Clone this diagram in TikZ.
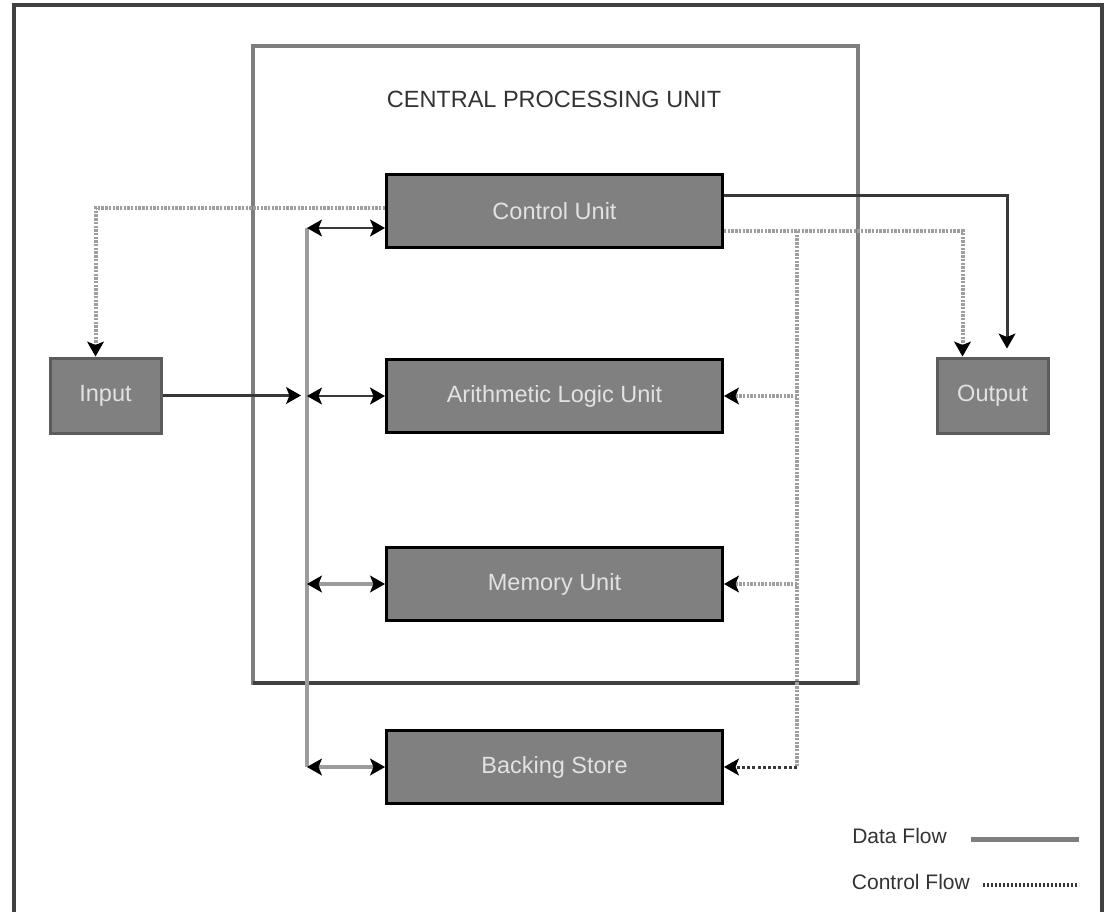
\documentclass[tikz,border=0pt]{standalone}
\usepackage{fontspec}
\setmainfont{Liberation Sans}
\usetikzlibrary{arrows.meta}
\definecolor{boxfill}{HTML}{808080}
\definecolor{boxtext}{HTML}{E2E2E2}
\definecolor{ioborder}{HTML}{5C5C5C}
\definecolor{framegray}{HTML}{7E7E7E}
\definecolor{framedark}{HTML}{404040}
\definecolor{darkline}{HTML}{383838}
\definecolor{busgray}{HTML}{9C9C9C}
\definecolor{ctrlgray}{HTML}{9E9E9E}
\definecolor{legendtext}{HTML}{333333}
\begin{document}
\begin{tikzpicture}[x=1pt,y=-1pt,
  hd/.tip={Stealth[length=15pt,width=17pt,inset=3.5pt,color=black,line width=1pt]},
  unitbox/.style={draw=black,line width=3pt,fill=boxfill,minimum width=336pt,
    minimum height=73pt,inner sep=0pt,text=boxtext,font=\fontsize{23.5}{27}\selectfont},
  iobox/.style={unitbox,draw=ioborder,minimum width=111pt,minimum height=75pt},
  title/.style={text=legendtext,font=\fontsize{23.5}{27}\selectfont,inner sep=0pt},
  legend/.style={text=legendtext,font=\fontsize{21}{25}\selectfont,inner sep=0pt},
  darkflow/.style={draw=darkline,line width=2.6pt},
  busflow/.style={draw=busgray,line width=4.5pt},
  ctrlflow/.style={draw=ctrlgray,line width=4pt,dash pattern=on 2.4pt off 1.3pt},
  ctrldark/.style={draw=darkline,line width=3pt,dash pattern=on 3pt off 2.2pt},
]
\useasboundingbox (0,0) rectangle (1105,912);

% outer frame (open at the bottom of the page)
\draw[framedark,line width=3.5pt] (14,5) rectangle (1102,960);

% CPU enclosure
\draw[framegray,line width=3.2pt] (253,46) rectangle (858,683);
\draw[framedark,line width=3.2pt] (253,683) -- (858,683);
\node[title] (cputitle) at (554,99) {CENTRAL PROCESSING UNIT};

% units
\node[unitbox] (cu)  at (554.5,211) {Control Unit};
\node[unitbox] (alu) at (554.5,396) {Arithmetic Logic Unit};
\node[unitbox] (mu)  at (554.5,584) {Memory Unit};
\node[unitbox] (bs)  at (554.5,767) {Backing Store};
\node[iobox]   (in)  at (105.5,395.5) {Input};
\node[iobox]   (out) at (992.5,395.5) {Output};

% data bus
\coordinate (bustop) at (307,228);
\coordinate (busbot) at (307,767);
\draw[busflow] (bustop) -- (busbot);

\draw[darkflow,hd-hd] (bustop) -- (cu.west |- bustop);
\draw[darkflow,hd-hd] (bustop |- alu.west) -- (alu.west);
\draw[busflow,line width=3.5pt,hd-hd] (bustop |- mu.west) -- (mu.west);
\draw[busflow,line width=3.5pt,hd-hd] (busbot) -- (bs.west);
\draw[darkflow,-hd,shorten >=6pt] (in.east) -- (bustop |- in.east);

% control unit to the outside world
\draw[ctrlflow,-hd] ([yshift=3pt]cu.west) -| ([xshift=-10pt]in.north);
\draw[darkflow,line width=3pt,-hd,shorten >=8pt] ([yshift=15pt]cu.east) -| ([xshift=14.5pt]out.north);
\draw[ctrlflow,-hd] ([yshift=-20pt]cu.east) -| ([xshift=-30pt]out.north);

% control lines to the units
\coordinate (ctrltop) at (797,231);
\draw[ctrlflow] (ctrltop) -- (ctrltop |- bs.east);
\draw[ctrlflow,-hd] (ctrltop |- alu.east) -- (alu.east);
\draw[ctrlflow,-hd] (ctrltop |- mu.east) -- (mu.east);
\draw[ctrldark,-hd] (ctrltop |- bs.east) -- (bs.east);

% legend
\node[legend,anchor=east] (ldata) at (947,836) {Data Flow};
\node[legend,anchor=east] (lctrl) at (970,882) {Control Flow};
\coordinate (ld1) at (971,839);
\coordinate (ld2) at (1079,839);
\coordinate (lc1) at (983,885);
\coordinate (lc2) at (1079,885);
\draw[busflow,draw=framegray,line width=5pt] (ld1) -- (ld2);
\draw[ctrldark,line width=3.5pt,dash pattern=on 2.4pt off 1.6pt] (lc1) -- (lc2);
\end{tikzpicture}
\end{document}
